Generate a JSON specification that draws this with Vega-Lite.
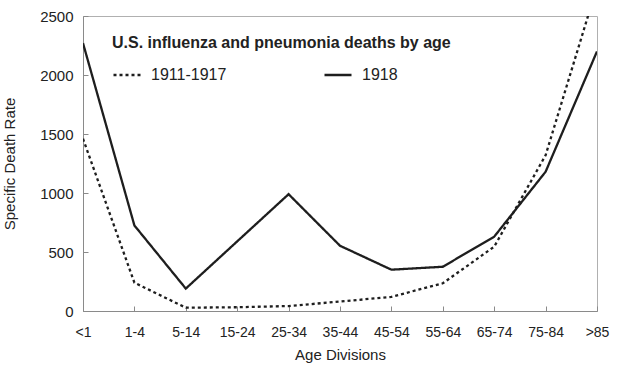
{
  "$schema": "https://vega.github.io/schema/vega-lite/v6.json",
  "width": 514,
  "height": 295,
  "autosize": {"type": "none"},
  "padding": {"left": 83, "top": 16, "right": 33, "bottom": 60},
  "background": "white",
  "config": {
    "font": "Liberation Sans",
    "view": {"stroke": "#b0b0b0", "strokeWidth": 1},
    "axis": {"grid": false, "domainColor": "#8a8a8a", "tickColor": "#8a8a8a", "labelColor": "#222", "titleColor": "#222"}
  },
  "title": {
    "text": "U.S. influenza and pneumonia deaths by age",
    "anchor": "start",
    "frame": "group",
    "orient": "top",
    "offset": 0,
    "baseline": "alphabetic",
    "dx": 29,
    "dy": 55,
    "fontSize": 16,
    "fontWeight": "bold",
    "color": "#222"
  },
  "data": {
    "values": [
      {"age": "<1", "series": "1911-1917", "rate": 1460},
      {"age": "1-4", "series": "1911-1917", "rate": 240},
      {"age": "5-14", "series": "1911-1917", "rate": 28},
      {"age": "15-24", "series": "1911-1917", "rate": 32},
      {"age": "25-34", "series": "1911-1917", "rate": 42},
      {"age": "35-44", "series": "1911-1917", "rate": 80},
      {"age": "45-54", "series": "1911-1917", "rate": 120},
      {"age": "55-64", "series": "1911-1917", "rate": 235},
      {"age": "65-74", "series": "1911-1917", "rate": 545},
      {"age": "75-84", "series": "1911-1917", "rate": 1320},
      {"age": ">85", "series": "1911-1917", "rate": 2750},
      {"age": "<1", "series": "1918", "rate": 2270},
      {"age": "1-4", "series": "1918", "rate": 725},
      {"age": "5-14", "series": "1918", "rate": 190},
      {"age": "15-24", "series": "1918", "rate": 590},
      {"age": "25-34", "series": "1918", "rate": 990},
      {"age": "35-44", "series": "1918", "rate": 553},
      {"age": "45-54", "series": "1918", "rate": 350},
      {"age": "55-64", "series": "1918", "rate": 375},
      {"age": "65-74", "series": "1918", "rate": 630},
      {"age": "75-84", "series": "1918", "rate": 1180},
      {"age": ">85", "series": "1918", "rate": 2200}
    ]
  },
  "mark": {"type": "line", "clip": true, "color": "#1e1e1e", "strokeWidth": 2.3},
  "encoding": {
    "x": {
      "field": "age",
      "type": "ordinal",
      "sort": ["<1", "1-4", "5-14", "15-24", "25-34", "35-44", "45-54", "55-64", "65-74", "75-84", ">85"],
      "scale": {"type": "point", "padding": 0},
      "axis": {
        "title": "Age Divisions",
        "titleFontSize": 15,
        "titleFontWeight": "normal",
        "titlePadding": 8,
        "labelAngle": 0,
        "labelFontSize": 14,
        "labelPadding": 19,
        "tickSize": -5
      }
    },
    "y": {
      "field": "rate",
      "type": "quantitative",
      "scale": {"domain": [0, 2500], "nice": false},
      "axis": {
        "title": "Specific Death Rate",
        "titleFontSize": 15,
        "titleFontWeight": "normal",
        "titlePadding": 22,
        "format": "d",
        "values": [0, 500, 1000, 1500, 2000, 2500],
        "labelFontSize": 15,
        "labelPadding": 15,
        "tickSize": -5
      }
    },
    "strokeDash": {
      "field": "series",
      "type": "nominal",
      "scale": {"domain": ["1911-1917", "1918"], "range": [[3, 3], [1, 0]]},
      "legend": {
        "title": null,
        "orient": "none",
        "legendX": 29,
        "legendY": 44,
        "direction": "horizontal",
        "symbolType": "stroke",
        "symbolSize": 729,
        "symbolStrokeWidth": 2.3,
        "symbolStrokeColor": "#1e1e1e",
        "labelFontSize": 16,
        "labelColor": "#222",
        "labelOffset": 9,
        "columnPadding": 92
      }
    }
  }
}
